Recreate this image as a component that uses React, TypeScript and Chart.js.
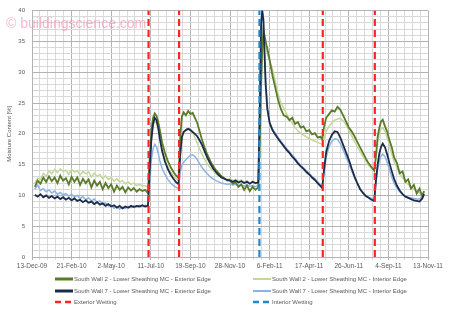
import React, { useEffect, useRef } from 'react';
import { Chart, registerables } from 'chart.js';

Chart.register(...registerables);

// Days since 13-Dec-09
const days = [
  5, 10, 15, 20, 25, 30, 35, 40, 45, 50, 55, 60, 65, 70, 75, 80, 85, 90, 95, 100, 105, 110, 115, 120, 125, 130, 135, 140, 145, 150, 155, 160, 165, 170, 175, 180, 185, 190, 195, 200, 205,
  208, 211, 214, 217, 220, 223, 226, 230, 235, 240, 245, 250, 255, 259,
  262, 265, 268, 272, 276, 280, 284, 288, 292, 296, 300, 305, 310, 315, 320, 325, 330, 335, 340, 345, 350, 355, 360, 365, 370, 375, 380, 385, 390, 395, 400,
  403, 405, 407, 409, 411, 413, 416, 420, 425, 430, 435, 440, 445, 450, 455, 460, 465, 470, 475, 480, 485, 490, 495, 500, 505, 510, 513,
  516, 520, 525, 530, 535, 540, 545, 550, 555, 560, 565, 570, 575, 580, 585, 590, 595, 600, 605,
  608, 611, 614, 617, 620, 624, 628, 632, 636, 640, 645, 650, 655, 660, 665, 670, 675, 680, 685, 690, 693,
];

const sw2Exterior = [
  11.4, 12.4, 11.9, 12.9, 12.2, 13.1, 12.3, 12.9, 12.0, 13.2, 12.4, 12.8, 11.8, 13.0, 12.2, 12.9, 11.7, 12.7, 12.0, 12.6, 11.3, 12.4, 11.6, 12.2, 11.0, 12.0, 11.2, 11.8, 10.6, 11.6, 10.9, 11.4, 10.5, 11.3, 10.8, 11.2, 10.6, 11.0, 10.7, 10.9, 10.4,
  16.0, 20.5, 22.6, 23.3, 22.9, 22.0, 20.6, 18.6, 16.9, 15.6, 14.6, 13.8, 13.2, 12.8,
  19.5, 22.8, 23.5, 23.0, 23.7, 23.2, 23.4, 22.6, 21.8, 20.5, 19.2, 17.8, 16.6, 15.6, 14.8, 14.1, 13.6, 13.1, 12.8, 12.4, 12.5, 11.9, 12.1, 11.4, 11.8, 10.9, 11.6, 10.7, 11.4, 10.9, 11.3,
  20.0, 28.0, 34.0, 36.8, 36.0, 35.0, 33.8, 32.0, 29.5, 27.5, 25.5, 24.0, 23.0, 22.8, 22.2, 22.6, 21.6, 21.9, 21.0, 21.2, 20.4, 20.6, 19.9, 20.1, 19.4, 19.5, 19.1,
  21.0, 22.6, 23.2, 23.8, 23.6, 24.4, 23.9, 23.0, 22.0, 21.0, 20.4, 19.6, 18.7, 17.8, 16.9, 16.0, 15.2, 14.6, 14.0,
  16.5, 19.5, 21.0, 22.0, 22.3, 21.2, 20.3, 18.9, 17.8, 16.2, 15.3, 13.6, 13.9, 12.2, 12.6, 11.1, 11.7, 10.3, 11.1, 9.8, 10.7,
];

const sw2Interior = [
  12.0, 12.8, 12.6, 13.6, 13.1, 14.0, 13.5, 14.2, 13.7, 14.3, 13.9, 14.1, 13.4, 14.2, 13.8, 14.0, 13.3, 13.9, 13.5, 13.8, 13.0, 13.6, 13.1, 13.4, 12.7, 13.2, 12.6, 12.9, 12.3, 12.7, 12.2, 12.4, 11.9, 12.2, 11.8, 12.0, 11.6, 11.8, 11.5, 11.6, 11.3,
  15.0, 19.0, 21.3, 22.0, 21.8, 20.9, 19.4, 17.5, 15.9, 14.7, 13.8, 13.2, 12.7, 12.4,
  17.0, 19.2, 20.2, 20.6, 20.9, 20.7, 20.2, 19.4, 18.5, 17.6, 16.8, 15.9, 15.1, 14.5, 14.0, 13.5, 13.2, 12.9, 12.7, 12.6, 12.7, 12.4, 12.6, 12.3, 12.5, 12.1, 12.4, 12.0, 12.3, 11.9, 12.1,
  18.0, 26.0, 33.0, 35.8, 35.2, 34.2, 33.0, 31.8, 30.6, 28.5, 26.5, 25.0, 24.2, 23.2, 22.4, 21.7, 21.0, 20.5, 20.1, 19.8, 19.5, 19.2, 19.0, 18.8, 18.6, 18.4, 18.3,
  19.2, 20.4, 21.2, 21.8, 22.2, 22.4, 22.5, 22.1, 21.5, 20.6, 19.7, 18.8, 17.9, 17.1, 16.3, 15.6, 14.9, 14.4, 13.9,
  16.0, 18.5, 20.0, 20.8, 21.0, 20.4, 19.3, 18.0, 16.7, 15.5, 14.5, 13.5, 12.9, 12.2, 11.8, 11.3, 11.0, 10.6, 10.4, 10.2, 10.6,
];

const sw7Exterior = [
  10.1, 9.8, 10.2, 9.7, 10.0, 9.6, 9.9, 9.5, 9.8, 9.4, 9.7, 9.3, 9.6, 9.2, 9.5, 9.1, 9.3, 8.9, 9.2, 8.8, 9.0, 8.6, 8.9, 8.5, 8.7, 8.3, 8.6, 8.2, 8.4, 8.0, 8.3, 7.9, 8.2, 8.0, 8.3, 8.1, 8.3, 8.2, 8.4, 8.2, 8.3,
  14.0, 19.0, 21.6, 22.6, 22.2, 21.0, 19.2, 17.2, 15.5, 14.3, 13.4, 12.7, 12.1, 11.8,
  16.5, 19.5, 20.3, 20.6, 20.8, 20.6, 20.3, 20.0, 19.6, 19.0, 18.3, 17.2, 16.1, 15.2, 14.4, 13.8, 13.3, 12.9, 12.7, 12.5, 12.4, 12.2, 12.4, 12.1, 12.3, 12.0, 12.2, 11.9, 12.2, 12.0, 12.1,
  26.0, 38.0, 40.0, 38.5, 33.0, 28.0, 24.0, 21.8, 20.6, 19.9, 19.2, 18.6, 18.0, 17.4, 16.9, 16.3, 15.8, 15.2, 14.7, 14.3, 13.8, 13.4, 12.9, 12.5, 12.0, 11.5, 11.2,
  14.0, 17.0, 18.8, 19.8, 20.4, 20.3, 19.4, 18.2, 17.0, 15.8, 14.4, 13.1, 12.0, 11.0, 10.4, 9.9, 9.6, 9.3, 9.1,
  12.5, 15.0, 16.8, 17.9, 18.4, 17.8, 16.6, 15.2, 13.9, 12.7, 11.6, 10.8, 10.2, 9.8, 9.6, 9.4, 9.2, 9.1, 9.0, 9.5, 10.2,
];

const sw7Interior = [
  11.0, 11.7, 10.8, 11.1, 10.6, 10.9, 10.4, 10.7, 10.2, 10.5, 10.1, 10.3, 9.9, 10.2, 9.7, 10.0, 9.5, 9.8, 9.3, 9.6, 9.1, 9.4, 8.9, 9.1, 8.6, 8.8, 8.3, 8.5, 7.9, 8.2, 7.8, 8.1, 7.9, 8.2, 8.0, 8.3, 8.1, 8.4, 8.2, 8.4, 8.3,
  12.0, 15.8, 17.6, 18.3, 17.9, 16.9, 15.6, 14.4, 13.4, 12.6, 12.0, 11.6, 11.3, 11.1,
  13.8, 15.0, 15.4, 15.8, 16.2, 16.5, 16.6, 16.3, 15.8, 15.2, 14.6, 14.0, 13.5, 13.0, 12.7, 12.4, 12.2, 12.0, 11.9, 11.8, 11.9, 11.7, 11.8, 11.6, 11.7, 11.5, 11.7, 11.5, 11.6, 11.4, 11.6,
  25.0, 37.5, 40.0, 39.0, 34.0, 29.0, 24.5, 22.0, 20.8, 20.1, 19.4, 18.8, 18.2, 17.6, 17.1, 16.5, 16.0, 15.4, 14.9, 14.5, 14.0, 13.6, 13.1, 12.7, 12.2, 11.7, 11.4,
  13.5, 16.2, 17.9, 18.8, 19.2, 19.1, 18.4, 17.4, 16.3, 15.2, 14.0, 12.9, 11.9, 11.1, 10.5, 10.0, 9.7, 9.5, 9.3,
  12.0, 14.2, 15.6, 16.4, 16.7, 16.3, 15.3, 14.1, 13.0, 12.0, 11.2, 10.6, 10.2, 9.9, 9.7, 9.6, 9.5, 9.4, 9.4, 9.8, 10.3,
];

const exteriorWettingDays = [206, 260, 514, 606];
const interiorWettingDays = [402];

const xTickLabels = ['13-Dec-09', '21-Feb-10', '2-May-10', '11-Jul-10', '19-Sep-10', '28-Nov-10', '6-Feb-11', '17-Apr-11', '26-Jun-11', '4-Sep-11', '13-Nov-11'];
const xMajorStep = 70;
const xMinorStep = 14;
const yMax = 40;

const COLORS = {
  sw2Ext: '#5b7b2b',
  sw2Int: '#c4d79b',
  sw7Ext: '#1c2b4a',
  sw7Int: '#8db3e2',
  extWet: '#ff2424',
  intWet: '#1e88d0',
};

const LABELS = {
  sw2Ext: 'South Wall 2 - Lower Sheathing MC - Exterior Edge',
  sw2Int: 'South Wall 2 - Lower Sheathing MC - Interior Edge',
  sw7Ext: 'South Wall 7 - Lower Sheathing MC - Exterior Edge',
  sw7Int: 'South Wall 7 - Lower Sheathing MC - Interior Edge',
  extWet: 'Exterior Wetting',
  intWet: 'Interior Wetting',
};

const toPts = (vals: number[]) => days.map((d, i) => ({ x: d, y: vals[i] }));
const wettingPts = (ds: number[]) =>
  ds.flatMap((d) => [
    { x: d, y: 0 },
    { x: d, y: yMax },
    { x: d, y: null as any },
  ]);

const GRID_MINOR = '#d9d9d9';
const GRID_MAJOR = '#b3b3b3';
const TEXT = '#595959';
const FONT = '"Liberation Sans", Arial, sans-serif';

function LegendItem(props: { left: number; top: number; color: string; width: number; dashed?: boolean; label: string }) {
  const { left, top, color, width, dashed, label } = props;
  return (
    <div style={{ position: 'absolute', left, top, height: 8, display: 'flex', alignItems: 'center', whiteSpace: 'nowrap' }}>
      <svg width={18} height={6} style={{ display: 'block' }}>
        <line x1={0} y1={3} x2={18} y2={3} stroke={color} strokeWidth={width} strokeDasharray={dashed ? '6 4' : undefined} />
      </svg>
      <span style={{ fontSize: 6, color: TEXT, marginLeft: 1, lineHeight: '8px' }}>{label}</span>
    </div>
  );
}

export default function App() {
  const ref = useRef<HTMLCanvasElement>(null);

  useEffect(() => {
    if (!ref.current) return;
    const chart = new Chart(ref.current, {
      type: 'line',
      data: {
        datasets: [
          { label: LABELS.extWet, data: wettingPts(exteriorWettingDays), borderColor: COLORS.extWet, borderWidth: 2.2, borderDash: [7, 4], pointRadius: 0, spanGaps: false, order: 0 },
          { label: LABELS.intWet, data: wettingPts(interiorWettingDays), borderColor: COLORS.intWet, borderWidth: 2.2, borderDash: [7, 4], pointRadius: 0, spanGaps: false, order: 1 },
          { label: LABELS.sw7Ext, data: toPts(sw7Exterior), borderColor: COLORS.sw7Ext, borderWidth: 1.8, pointRadius: 0, order: 2 },
          { label: LABELS.sw2Ext, data: toPts(sw2Exterior), borderColor: COLORS.sw2Ext, borderWidth: 1.8, pointRadius: 0, order: 3 },
          { label: LABELS.sw7Int, data: toPts(sw7Interior), borderColor: COLORS.sw7Int, borderWidth: 1.5, pointRadius: 0, order: 4 },
          { label: LABELS.sw2Int, data: toPts(sw2Interior), borderColor: COLORS.sw2Int, borderWidth: 1.5, pointRadius: 0, order: 5 },
        ],
      },
      options: {
        responsive: false,
        animation: false,
        devicePixelRatio: 1,
        layout: { padding: { left: 0, right: 22, top: 7, bottom: 37 } },
        plugins: { legend: { display: false }, tooltip: { enabled: false } },
        elements: { line: { tension: 0 } },
        scales: {
          x: {
            type: 'linear',
            min: 0,
            max: xMajorStep * (xTickLabels.length - 1),
            afterFit: (s: any) => { s.height = 18; },
            border: { display: true, color: GRID_MAJOR },
            grid: {
              color: (c: any) => (c.tick && c.tick.value % xMajorStep === 0 ? GRID_MAJOR : GRID_MINOR),
              tickLength: 3,
              lineWidth: 1,
            },
            ticks: {
              stepSize: xMinorStep,
              autoSkip: false,
              maxRotation: 0,
              minRotation: 0,
              padding: 2,
              color: TEXT,
              font: { family: FONT, size: 6.5 },
              callback: (v: any) => (Number(v) % xMajorStep === 0 ? xTickLabels[Number(v) / xMajorStep] : ''),
            },
          },
          y: {
            type: 'linear',
            min: 0,
            max: yMax,
            afterFit: (s: any) => { s.width = 32; },
            border: { display: true, color: GRID_MAJOR },
            grid: {
              color: (c: any) => (c.tick && c.tick.value % 5 === 0 ? GRID_MAJOR : GRID_MINOR),
              drawTicks: false,
              lineWidth: 1,
            },
            title: {
              display: true,
              text: 'Moisture Content [%]',
              color: TEXT,
              font: { family: FONT, size: 6 },
              padding: { top: 6, bottom: 0 },
            },
            ticks: {
              stepSize: 1,
              autoSkip: false,
              padding: 7,
              color: TEXT,
              font: { family: FONT, size: 6 },
              callback: (v: any) => (Number(v) % 5 === 0 ? String(v) : ''),
            },
          },
        },
      },
    } as any);
    return () => chart.destroy();
  }, []);

  return (
    <div style={{ position: 'absolute', left: 0, top: 0, width: 450, height: 312, background: '#ffffff', overflow: 'hidden', fontFamily: FONT }}>
      <canvas ref={ref} width={450} height={312} style={{ position: 'absolute', left: 0, top: 0, width: 450, height: 312 }} />
      <div style={{ position: 'absolute', left: 6, top: 15, fontSize: 14, lineHeight: '16px', color: 'rgba(238,125,158,0.55)', whiteSpace: 'nowrap', pointerEvents: 'none' }}>
        © buildingscience.com
      </div>
      <LegendItem left={55} top={275} color={COLORS.sw2Ext} width={3} label={LABELS.sw2Ext} />
      <LegendItem left={253} top={275} color={COLORS.sw2Int} width={2} label={LABELS.sw2Int} />
      <LegendItem left={55} top={287} color={COLORS.sw7Ext} width={3} label={LABELS.sw7Ext} />
      <LegendItem left={253} top={287} color={COLORS.sw7Int} width={2} label={LABELS.sw7Int} />
      <LegendItem left={55} top={298} color={COLORS.extWet} width={2.5} dashed label={LABELS.extWet} />
      <LegendItem left={253} top={298} color={COLORS.intWet} width={2.5} dashed label={LABELS.intWet} />
    </div>
  );
}
